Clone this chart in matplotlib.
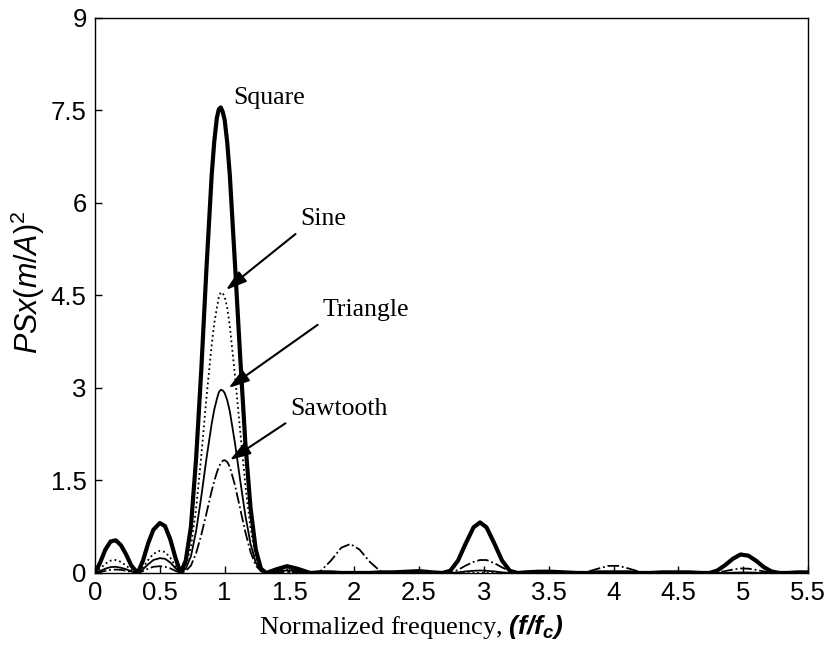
import matplotlib
matplotlib.use("Agg")
import matplotlib.pyplot as plt
from matplotlib.ticker import FormatStrFormatter

# values
freq = [0.00, 0.04, 0.08, 0.12, 0.16, 0.20, 0.24, 0.28, 0.33,
        0.37, 0.41, 0.45, 0.50, 0.54, 0.58, 0.62, 0.66,
        0.70, 0.74, 0.78, 0.82, 0.86, 0.90, 0.92, 0.94, 0.955, 0.97, 0.985, 1.00, 1.02, 1.04,
        1.08, 1.12, 1.16, 1.20, 1.24, 1.28, 1.32,
        1.40, 1.48, 1.56, 1.66,
        1.74, 1.82, 1.90, 1.97, 2.04, 2.12, 2.20, 2.30,
        2.40, 2.50, 2.60, 2.68,
        2.74, 2.80, 2.86, 2.92, 2.97, 3.02, 3.08, 3.14, 3.20, 3.26, 3.32,
        3.42, 3.52, 3.62, 3.72,
        3.80, 3.88, 3.96, 4.04, 4.12, 4.20, 4.28,
        4.38, 4.48, 4.58, 4.68,
        4.74, 4.80, 4.86, 4.92, 4.98, 5.04, 5.10, 5.16, 5.22, 5.28, 5.34,
        5.42, 5.50]

square = [0.0, 0.17, 0.38, 0.51, 0.53, 0.45, 0.30, 0.12, 0.0,
          0.20, 0.48, 0.70, 0.81, 0.76, 0.55, 0.25, 0.0,
          0.20, 0.75, 1.86, 3.30, 4.95, 6.45, 7.00, 7.38, 7.52, 7.55, 7.48, 7.35, 6.98, 6.45,
          5.00, 3.50, 2.10, 1.05, 0.38, 0.07, 0.0,
          0.06, 0.11, 0.07, 0.0,
          0.01, 0.01, 0.0, 0.0, 0.0, 0.0, 0.01, 0.01,
          0.02, 0.03, 0.01, 0.0,
          0.035, 0.20, 0.48, 0.74, 0.82, 0.74, 0.48, 0.20, 0.035, 0.0, 0.01,
          0.02, 0.02, 0.01, 0.0,
          0.0, 0.01, 0.01, 0.01, 0.01, 0.0, 0.0,
          0.01, 0.01, 0.01, 0.0,
          0.0, 0.04, 0.126, 0.23, 0.30, 0.28, 0.197, 0.093, 0.023, 0.0, 0.0,
          0.01, 0.01]

sine = [0.0, 0.07, 0.15, 0.20, 0.21, 0.18, 0.12, 0.05, 0.0,
        0.09, 0.21, 0.31, 0.36, 0.34, 0.25, 0.11, 0.0,
        0.12, 0.42, 1.05, 1.90, 2.85, 3.70, 4.05, 4.30, 4.47, 4.55, 4.54, 4.48, 4.30, 4.00,
        3.20, 2.30, 1.42, 0.72, 0.26, 0.05, 0.0,
        0.04, 0.06, 0.04, 0.0,
        0.0, 0.0, 0.0, 0.0, 0.0, 0.0, 0.0, 0.0,
        0.0, 0.005, 0.0, 0.0,
        0.0, 0.0, 0.0, 0.0, 0.0, 0.0, 0.0, 0.0, 0.0, 0.0, 0.0,
        0.0, 0.0, 0.0, 0.0,
        0.0, 0.0, 0.0, 0.0, 0.0, 0.0, 0.0,
        0.0, 0.0, 0.0, 0.0,
        0.0, 0.0, 0.0, 0.0, 0.0, 0.0, 0.0, 0.0, 0.0, 0.0, 0.0,
        0.0, 0.0]

triangle = [0.0, 0.03, 0.07, 0.095, 0.10, 0.085, 0.06, 0.025, 0.0,
            0.06, 0.14, 0.21, 0.24, 0.23, 0.17, 0.08, 0.0,
            0.07, 0.27, 0.68, 1.24, 1.86, 2.42, 2.65, 2.82, 2.93, 2.97, 2.96, 2.92, 2.80, 2.62,
            2.10, 1.50, 0.93, 0.47, 0.17, 0.03, 0.0,
            0.03, 0.04, 0.03, 0.0,
            0.0, 0.0, 0.0, 0.0, 0.0, 0.0, 0.0, 0.0,
            0.0, 0.0, 0.0, 0.0,
            0.0, 0.01, 0.025, 0.035, 0.04, 0.035, 0.025, 0.01, 0.0, 0.0, 0.0,
            0.0, 0.0, 0.0, 0.0,
            0.0, 0.0, 0.0, 0.0, 0.0, 0.0, 0.0,
            0.0, 0.0, 0.0, 0.0,
            0.0, 0.0, 0.0, 0.005, 0.008, 0.008, 0.005, 0.0, 0.0, 0.0, 0.0,
            0.0, 0.0]

sawtooth = [0.0, 0.015, 0.035, 0.05, 0.055, 0.05, 0.035, 0.015, 0.0,
            0.03, 0.07, 0.10, 0.11, 0.10, 0.075, 0.035, 0.0,
            0.03, 0.12, 0.32, 0.62, 0.97, 1.33, 1.49, 1.63, 1.72, 1.78, 1.82, 1.83, 1.80, 1.72,
            1.42, 1.04, 0.66, 0.34, 0.12, 0.03, 0.0,
            0.01, 0.02, 0.01, 0.0,
            0.03, 0.20, 0.41, 0.47, 0.38, 0.18, 0.03, 0.0,
            0.0, 0.01, 0.0, 0.0,
            0.0, 0.05, 0.12, 0.18, 0.21, 0.21, 0.16, 0.09, 0.03, 0.0, 0.0,
            0.0, 0.005, 0.0, 0.0,
            0.02, 0.07, 0.115, 0.115, 0.07, 0.02, 0.0,
            0.0, 0.0, 0.0, 0.0,
            0.0, 0.01, 0.03, 0.055, 0.073, 0.07, 0.05, 0.025, 0.005, 0.0, 0.0,
            0.0, 0.0]

xticks = [0, 0.5, 1, 1.5, 2, 2.5, 3, 3.5, 4, 4.5, 5, 5.5]
yticks = [0, 1.5, 3, 4.5, 6, 7.5, 9]

plt.rcParams['font.family'] = 'Liberation Sans'
plt.rcParams['mathtext.fontset'] = 'custom'
plt.rcParams['mathtext.it'] = 'Liberation Sans:italic'
plt.rcParams['mathtext.rm'] = 'Liberation Sans'
plt.rcParams['mathtext.bf'] = 'Liberation Sans:italic:bold'

fig = plt.figure(figsize=(8.29, 6.54), dpi=100)
ax = fig.add_axes([0.1146, 0.1239, 0.8601, 0.8486])

ax.plot(freq, square, color='k', lw=3.0, solid_joinstyle='round')
ax.plot(freq, sine, color='k', lw=1.3, linestyle=':')
ax.plot(freq, triangle, color='k', lw=1.3, linestyle='-')
ax.plot(freq, sawtooth, color='k', lw=1.3, linestyle='-.')

ax.set_xlim(0, 5.5)
ax.set_ylim(0, 9)
ax.set_xticks(xticks)
ax.set_yticks(yticks)
ax.xaxis.set_major_formatter(FormatStrFormatter('%g'))
ax.yaxis.set_major_formatter(FormatStrFormatter('%g'))
ax.tick_params(direction='in', length=5, width=1, labelsize=18.5, pad=6)
for s in ax.spines.values():
    s.set_linewidth(1.0)

ax.set_xlabel(r'Normalized frequency, $\mathbf{(f/f_c)}$', fontfamily='Liberation Serif',
              fontsize=19)
ax.xaxis.set_label_coords(0.443, -0.072)
ax.set_ylabel(r'$PSx(m/A)^{2}$', fontsize=22)
ax.yaxis.set_label_coords(-0.068, 0.524)

serif = 'Liberation Serif'
ax.text(1.067, 7.7, 'Square', fontfamily=serif, fontsize=18.5, ha='left', va='center')
arrow = dict(arrowstyle='-|>,head_length=0.7,head_width=0.22', color='k', lw=1.5,
             mutation_scale=18, shrinkA=2, shrinkB=0)
ax.annotate('Sine', xy=(1.01, 4.59), xytext=(1.585, 5.74), fontfamily=serif, fontsize=18.5,
            ha='left', va='center', arrowprops=dict(arrow, relpos=(0, 0)))
ax.annotate('Triangle', xy=(1.03, 3.0), xytext=(1.756, 4.26), fontfamily=serif, fontsize=18.5,
            ha='left', va='center', arrowprops=dict(arrow, relpos=(0, 0)))
ax.annotate('Sawtooth', xy=(1.04, 1.83), xytext=(1.508, 2.66), fontfamily=serif, fontsize=18.5,
            ha='left', va='center', arrowprops=dict(arrow, relpos=(0, 0)))

fig.savefig('out.png', dpi=100)
